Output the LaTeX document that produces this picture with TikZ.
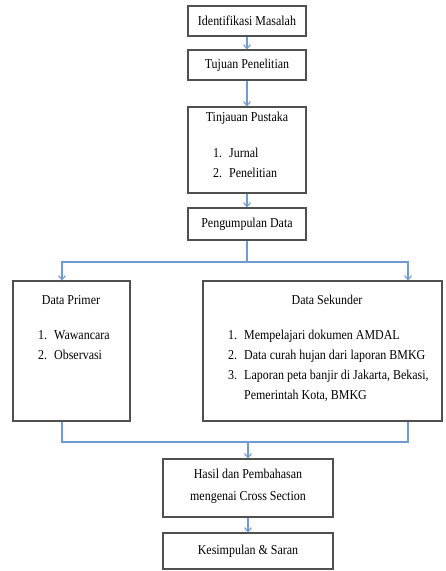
\documentclass[tikz,border=0pt]{standalone}
\usepackage{fontspec}
\setmainfont{Liberation Serif}[FakeStretch=0.88]
\usepackage{tikz}
\usetikzlibrary{arrows.meta}
\definecolor{kbiru}{HTML}{6F9BD2}
\definecolor{kgaris}{HTML}{505050}
\newcommand{\butir}[2]{\makebox[16pt][l]{#1}#2}
\tikzset{
  kotak/.style={draw=kgaris, line width=1.1pt, inner sep=0pt},
  teks/.style={font=\fontsize{13.6}{20}\selectfont, inner sep=0pt, align=center},
  daftar/.style={font=\fontsize{13.6}{20}\selectfont, inner sep=0pt, align=left, anchor=west},
  panah/.style={draw=kbiru, line width=1.1pt, -{Straight Barb[length=4pt,width=7pt]}},
  garis/.style={draw=kbiru, line width=1.1pt},
}

\begin{document}
\begin{tikzpicture}[x=1pt, y=-1pt]
    \useasboundingbox (0,0) rectangle (446,571);

    % --- alur atas ---------------------------------------------------------
    \node[kotak, minimum width=118pt, minimum height=30pt] (idm) at (247,21) {};
    \node[teks] (idmT) at (247,21) {Identifikasi Masalah};
    \node[kotak, minimum width=118pt, minimum height=30pt] (tuj) at (247,65) {};
    \node[teks] (tujT) at (247,65) {Tujuan Penelitian};
    \node[kotak, minimum width=118pt, minimum height=86pt] (tin) at (247,150) {};
    \node[teks] (tinT) at (247,118) {Tinjauan Pustaka};
    \node[daftar] (tinL) at (213,163) {\butir{1.}{Jurnal}\\\butir{2.}{Penelitian}};
    \node[kotak, minimum width=118pt, minimum height=32pt] (pgd) at (247,224) {};
    \node[teks] (pgdT) at (247,224) {Pengumpulan Data};

    % --- dua sumber data ---------------------------------------------------
    \node[kotak, minimum width=117pt, minimum height=140pt] (pri) at (71.5,351) {};
    \node[teks] (priT) at (71,300) {Data Primer};
    \node[daftar] (priL) at (38,345) {\butir{1.}{Wawancara}\\\butir{2.}{Observasi}};
    \node[kotak, minimum width=239pt, minimum height=140pt] (sek) at (322.5,351) {};
    \node[teks] (sekT) at (327,300) {Data Sekunder};
    \node[daftar] (sekL) at (228,366) {\butir{1.}{Mempelajari dokumen AMDAL}\\
      \butir{2.}{Data curah hujan dari laporan BMKG}\\
      \butir{3.}{Laporan peta banjir di Jakarta, Bekasi,}\\
      \butir{}{Pemerintah Kota, BMKG}};

    % --- hasil -------------------------------------------------------------
    \node[kotak, minimum width=170pt, minimum height=58pt] (has) at (248,488) {};
    \node[teks] (hasT) at (248,486) {Hasil dan Pembahasan\\[2pt]mengenai Cross Section};
    \node[kotak, minimum width=170pt, minimum height=36pt] (kes) at (248,551) {};
    \node[teks] (kesT) at (248,551) {Kesimpulan \& Saran};

    % --- penghubung --------------------------------------------------------
    \coordinate (cabang) at (247,262);
    \coordinate (gabung) at (248,442);
    \draw[panah] (idm) -- (tuj);
    \draw[panah] (tuj) -- (tin);
    \draw[panah] (tin) -- (pgd);
    \draw[garis] (pgd) -- (cabang);
    \draw[panah] (cabang) -| ([xshift=-9.5pt]pri.north);
    \draw[panah] (cabang) -| ([xshift=85.5pt]sek.north);
    \draw[garis] ([xshift=-9.5pt]pri.south) |- (gabung) -| ([xshift=85.5pt]sek.south);
    \draw[panah] (gabung) -- (has);
    \draw[panah] (has) -- (kes);
\end{tikzpicture}
\end{document}
